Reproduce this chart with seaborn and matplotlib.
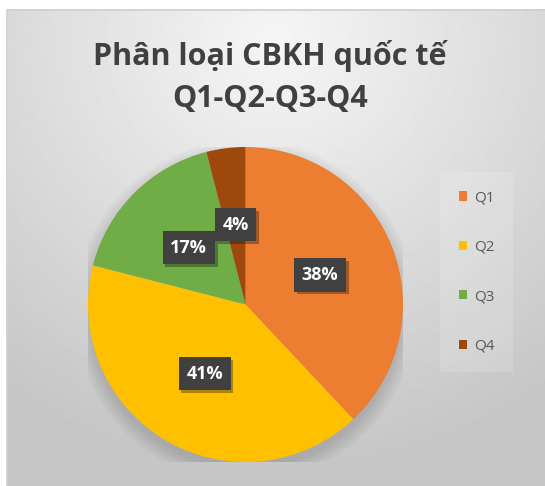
import numpy as np
import matplotlib
matplotlib.use('Agg')
import matplotlib.pyplot as plt
import matplotlib.patheffects as pe
from matplotlib.patches import Circle
import seaborn as sns

# ---------- dados ----------
categorias = ['Q1', 'Q2', 'Q3', 'Q4']
valores    = [38, 41, 17, 4]
cores      = ['#ED7D31', '#FFC000', '#70AD47', '#9E480E']
titulo     = 'Phân loại CBKH quốc tế\nQ1-Q2-Q3-Q4'

sns.set_theme(style='white')
plt.rcParams['font.family'] = ['Open Sans', 'DejaVu Sans']

W, H = 545, 486
fig = plt.figure(figsize=(W / 100, H / 100), dpi=100)
fig.patch.set_facecolor('white')

# fundo com gradiente radial (estilo Excel)
bg = fig.add_axes([0, 0, 1, 1], zorder=-1)
x0, y0 = 7, 10
xx, yy = np.meshgrid(np.arange(x0, W), np.arange(y0, H))
d = np.hypot(xx - 275, (yy - 40) * 1.05)
v = (246 - 48 * np.clip(d / 450, 0, 1)) / 255
bg.imshow(v, cmap='gray', vmin=0, vmax=1, extent=(x0, W, H, y0), interpolation='bilinear')
bg.plot([x0, x0, W], [H, y0, y0], color='#d0d0d0', lw=1.2)
bg.set_xlim(0, W)
bg.set_ylim(H, 0)
bg.axis('off')

# pizza
ax = fig.add_axes([88 / W, 24 / H, 315 / W, 315 / H])
for i in range(10):
    ax.add_patch(Circle((0, -0.04), 1 + 0.01 * i, color='black', alpha=0.012, lw=0, zorder=0))

pal = sns.color_palette(cores)
wedges, _, autotexts = ax.pie(valores, colors=pal, startangle=90, counterclock=False,
                              autopct=lambda p: f'{p:.0f}%', pctdistance=0.51,
                              wedgeprops=dict(linewidth=0), radius=1)
for t in autotexts:
    t.set_color('white')
    t.set_fontsize(13)
    t.set_fontweight('bold')
    t.set_bbox(dict(boxstyle='square,pad=0.42', facecolor='#404040', edgecolor='none',
                    path_effects=[pe.SimplePatchShadow(offset=(2, -2), alpha=0.35), pe.Normal()]))
ax.set_xlim(-1, 1)
ax.set_ylim(-1, 1)
ax.set_aspect('equal')
ax.axis('off')

# legenda
leg = fig.legend(wedges, categorias, loc='center left', bbox_to_anchor=(445 / W, 1 - 272 / H),
                 frameon=True, fontsize=11, handlelength=0.55, handleheight=0.55,
                 handletextpad=0.45, labelspacing=2.25, borderpad=0.9, borderaxespad=0,
                 labelcolor='#595959')
leg.get_frame().set_facecolor('white')
leg.get_frame().set_alpha(0.15)
leg.get_frame().set_edgecolor('none')
leg.get_frame().set_boxstyle('square')

fig.text(270 / W, 1 - 77 / H, titulo, ha='center', va='center', fontsize=22,
         fontweight='bold', color='#404040', linespacing=1.55)

fig.savefig('out.png', dpi=100)
